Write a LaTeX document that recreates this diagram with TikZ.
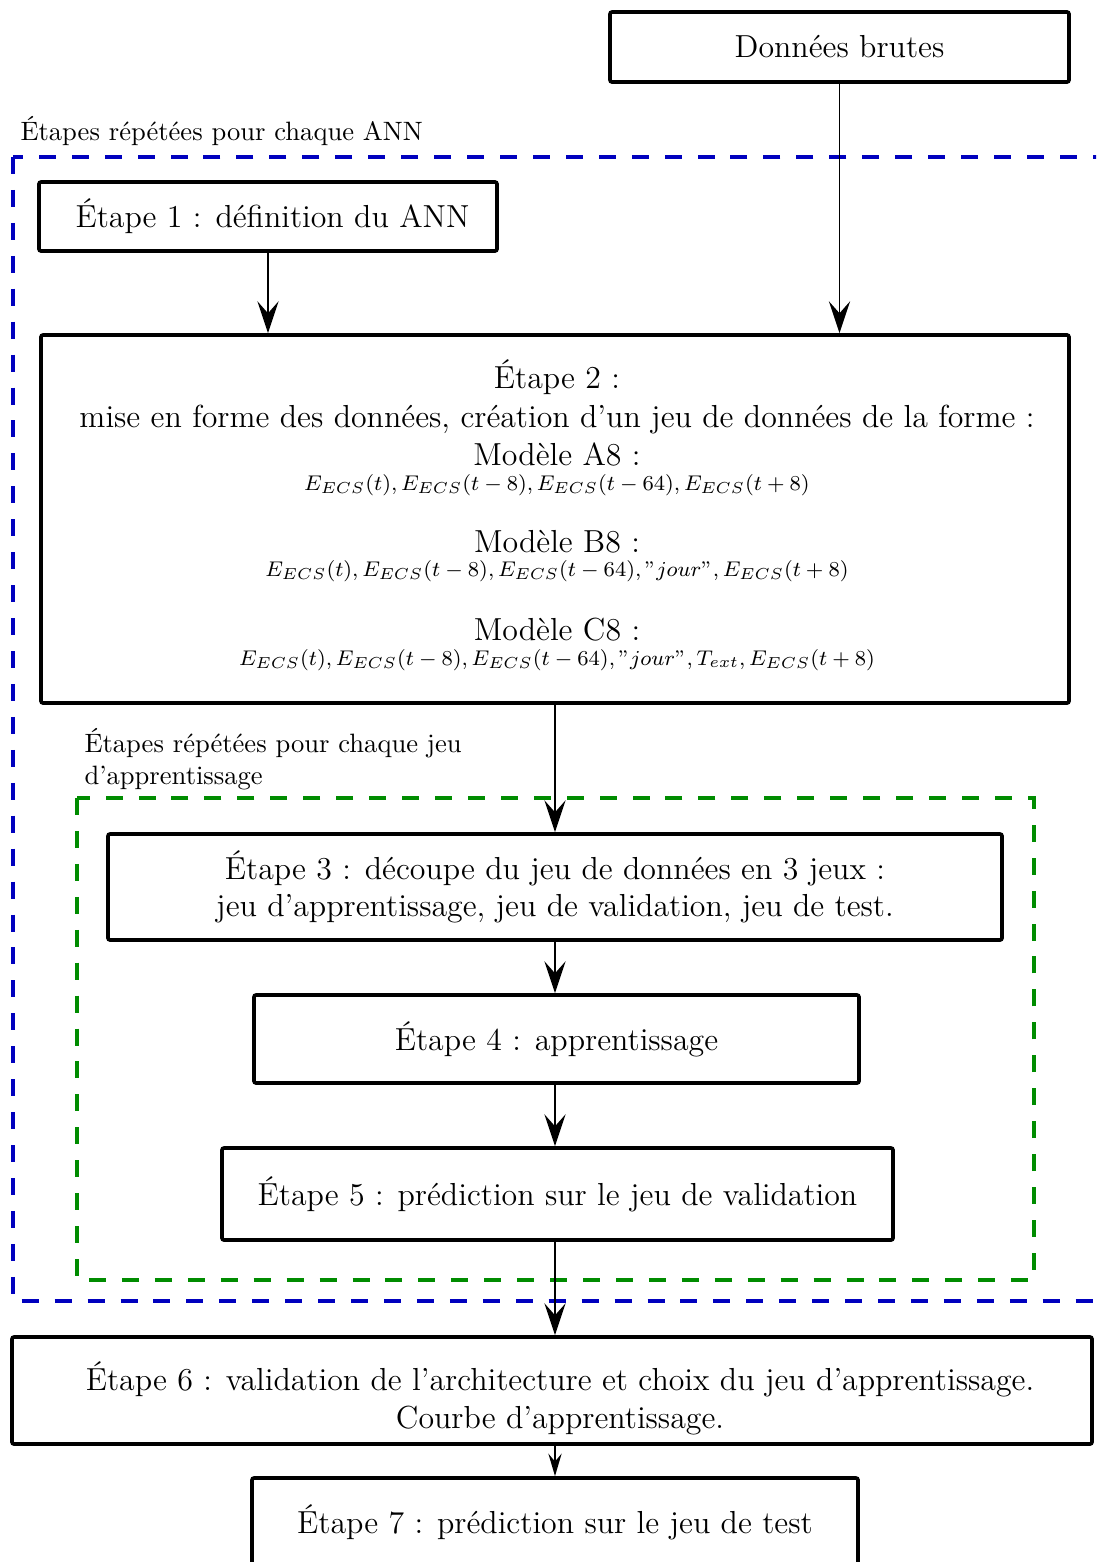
\documentclass[tikz,border=0pt]{standalone}
\usetikzlibrary{arrows.meta}
\definecolor{bluedash}{RGB}{0,0,190}
\definecolor{greendash}{RGB}{0,140,0}
\begin{document}
\begin{tikzpicture}[x=0.3765pt,y=-0.3765pt,
  box/.style={draw,line width=1.4pt,rounded corners=0.8pt,inner sep=0pt,font=\large,align=center},
  sz/.style 2 args={minimum width=#1*0.3765pt,minimum height=#2*0.3765pt},
  arr/.style={-{Stealth[length=12pt,width=8pt,inset=4.5pt]},line width=0.6pt},
  smallarr/.style={-{Stealth[length=8.5pt,width=5pt,inset=3pt]},line width=0.6pt},
  grp/.style={line width=1.5pt,dash pattern=on 6.4pt off 6pt},
  txt/.style={anchor=base,inner sep=0pt,font=\large},
  mth/.style={anchor=base,inner sep=0pt,font=\fontsize{8.5}{10}\selectfont},
  lbl/.style={inner sep=0pt,font=\normalsize,align=left}
]
\useasboundingbox (0,0) rectangle (1096,1562);
\clip (0,0) rectangle (1096,1562);

% group frames
\draw[grp,bluedash] (13,157) rectangle (1130,1301);
\draw[grp,greendash] (77,798) rectangle (1034,1280);
\node[lbl,anchor=base west] (lblann) at (20,140) {Étapes répétées pour chaque ANN};
\node[lbl,anchor=west] (lbljeu) at (84,759) {Étapes répétées pour chaque jeu\\d'apprentissage};

% boxes
\node[box,sz={459}{70}] (dat) at (839.5,47) {Données brutes};
\node[box,sz={458}{69}] (e1) at (268,216.5) {\hspace{3.4pt}Étape 1 : définition du ANN};
\node[box,sz={1028}{368}] (e2) at (555,519) {};
\node[txt] (e2a) at (557,388) {Étape 2 :};
\node[txt] (e2b) at (557,427) {mise en forme des données, création d'un jeu de données de la forme :};
\node[txt] (e2c) at (557,465) {Modèle A8 :};
\node[mth] (e2d) at (557,490) {$E_{ECS}(t), E_{ECS}(t-8), E_{ECS}(t-64), E_{ECS}(t+8)$};
\node[txt] (e2e) at (557,552) {Modèle B8 :};
\node[mth] (e2f) at (557,576) {$E_{ECS}(t), E_{ECS}(t-8), E_{ECS}(t-64), "jour", E_{ECS}(t+8)$};
\node[txt] (e2g) at (557,640) {Modèle C8 :};
\node[mth] (e2h) at (557,665) {$E_{ECS}(t), E_{ECS}(t-8), E_{ECS}(t-64), "jour", T_{ext}, E_{ECS}(t+8)$};
\node[box,sz={894}{106}] (e3) at (555,887) {Étape 3 : découpe du jeu de données en 3 jeux :\\jeu d'apprentissage, jeu de validation, jeu de test.};
\node[box,sz={605}{88}] (e4) at (556.5,1039) {Étape 4 : apprentissage};
\node[box,sz={671}{92}] (e5) at (557.5,1194) {Étape 5 : prédiction sur le jeu de validation};
\node[box,sz={1080}{107}] (e6) at (552,1390.5) {};
\node[txt] (e6a) at (560,1390) {Étape 6 : validation de l'architecture et choix du jeu d'apprentissage.};
\node[txt] (e6b) at (560,1428) {Courbe d'apprentissage.};
\node[box,sz={606}{88}] (e7) at (555,1522) {Étape 7 : prédiction sur le jeu de test};

% arrows
\draw[arr] (e1.south) -- (e1.south |- e2.north);
\draw[arr] (dat.south) -- (dat.south |- e2.north);
\draw[arr] (e2.south) -- (e2.south |- e3.north);
\draw[arr] (e3.south) -- (e3.south |- e4.north);
\draw[arr] (e3.south |- e4.south) -- (e3.south |- e5.north);
\draw[arr] (e3.south |- e5.south) -- (e3.south |- e6.north);
\draw[smallarr] (e3.south |- e6.south) -- (e3.south |- e7.north);
\end{tikzpicture}
\end{document}
